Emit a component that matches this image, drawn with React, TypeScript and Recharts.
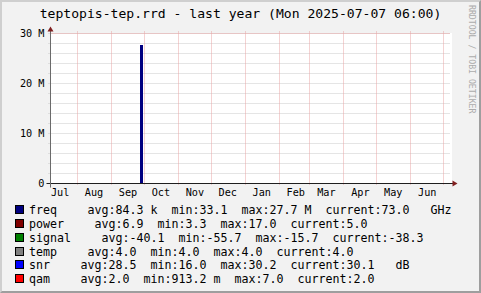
import React from 'react';
import { AreaChart, Area, XAxis, YAxis, CartesianGrid, ReferenceLine } from 'recharts';

// ---------- data ----------
const rangeStart = Date.UTC(2024, 6, 7, 6, 0);
const rangeEnd = Date.UTC(2025, 6, 7, 6, 0);

// freq samples: time, value (Hz)
const sampleTimes = [
  Date.UTC(2024, 6, 7, 6, 0),
  Date.UTC(2024, 8, 27, 0, 0),
  Date.UTC(2024, 8, 30, 0, 0),
  Date.UTC(2025, 6, 7, 6, 0),
];
const freqValues = [73.0, 27.7e6, 73.0, 73.0];

const monthNames = ['Jul', 'Aug', 'Sep', 'Oct', 'Nov', 'Dec', 'Jan', 'Feb', 'Mar', 'Apr', 'May', 'Jun'];
const labelMonthStarts = [
  Date.UTC(2024, 6, 1), Date.UTC(2024, 7, 1), Date.UTC(2024, 8, 1), Date.UTC(2024, 9, 1),
  Date.UTC(2024, 10, 1), Date.UTC(2024, 11, 1), Date.UTC(2025, 0, 1), Date.UTC(2025, 1, 1),
  Date.UTC(2025, 2, 1), Date.UTC(2025, 3, 1), Date.UTC(2025, 4, 1), Date.UTC(2025, 5, 1),
];
const gridMonthStarts = [
  Date.UTC(2024, 7, 1), Date.UTC(2024, 8, 1), Date.UTC(2024, 9, 1), Date.UTC(2024, 10, 1),
  Date.UTC(2024, 11, 1), Date.UTC(2025, 0, 1), Date.UTC(2025, 1, 1), Date.UTC(2025, 2, 1),
  Date.UTC(2025, 3, 1), Date.UTC(2025, 4, 1), Date.UTC(2025, 5, 1), Date.UTC(2025, 6, 1),
];
const yMajorTicks = [0, 10e6, 20e6, 30e6];
const yMajorLabels = ['0', '10 M', '20 M', '30 M'];
const yMinorTicks = [0, 2e6, 4e6, 6e6, 8e6, 10e6, 12e6, 14e6, 16e6, 18e6, 20e6, 22e6, 24e6, 26e6, 28e6, 30e6];

const titleText = 'teptopis-tep.rrd - last year (Mon 2025-07-07 06:00)';
const watermarkText = 'RRDTOOL / TOBI OETIKER';

const legendNames = ['freq', 'power', 'signal', 'temp', 'snr', 'qam'];
const legendColors = ['#000080', '#800000', '#008000', '#808080', '#0000ff', '#ff0000'];
const legendAvg = ['84.3 k', '6.9', '-40.1', '4.0', '28.5', '2.0'];
const legendMin = ['33.1', '3.3', '-55.7', '4.0', '16.0', '913.2 m'];
const legendMax = ['27.7 M', '17.0', '-15.7', '4.0', '30.2', '7.0'];
const legendCurrent = ['73.0', '5.0', '-38.3', '4.0', '30.1', '2.0'];
const legendUnits = ['GHz', '', '', '', 'dB', ''];

// ---------- build ----------
const HALF_MONTH = 15 * 86400000;
const labelTicks = labelMonthStarts.map((t) => t + HALF_MONTH);
const data = sampleTimes.map((t, i) => ({ t, freq: freqValues[i] }));

const FONT = '"DejaVu Sans Mono", monospace';
const MINOR = '#cbcbcb';
const MAJOR = '#e8a4a4';
const AXIS = '#1f1f1f';
const ARROW = '#801f1f';

const fmtMonth = (v: number) => {
  const i = labelTicks.indexOf(v);
  return i >= 0 ? monthNames[i] : '';
};
const fmtY = (v: number) => {
  const i = yMajorTicks.indexOf(v);
  return i >= 0 ? yMajorLabels[i] : '';
};
const blank = () => '';

// month grid line: snapped to the pixel grid, extended 2px beyond the plot like rrdtool
const MonthGridLine = (p: any) => {
  const x = Math.floor(p.x1) + 0.5;
  const yTop = Math.min(p.y1, p.y2) - 2;
  const yBot = Math.max(p.y1, p.y2) + 2;
  return <line x1={x} x2={x} y1={yTop} y2={yBot} stroke={MAJOR} strokeWidth={1} strokeDasharray="1 1" />;
};

const CW = 7.0; // legend char advance

export default function App() {
  return (
    <div
      style={{
        position: 'fixed',
        left: 0,
        top: 0,
        width: 481,
        height: 293,
        background: '#f2f2f2',
        overflow: 'hidden',
      }}
    >
      <style>{`
        .rrd .recharts-area path { shape-rendering: crispEdges; }
      `}</style>
      <div
        style={{
          position: 'absolute',
          left: 0,
          top: 0,
          width: 481,
          height: 293,
          boxSizing: 'border-box',
          borderTop: '2px solid #cfcfcf',
          borderLeft: '2px solid #cfcfcf',
          borderRight: '2px solid #9e9e9e',
          borderBottom: '2px solid #9e9e9e',
        }}
      />
      <div style={{ position: 'absolute', left: 50, top: 33, width: 402, height: 151, background: '#ffffff' }} />
      <div className="rrd" style={{ position: 'absolute', left: 0, top: 0 }}>
        <AreaChart
          width={481}
          height={293}
          data={data}
          margin={{ top: 33.5, right: 30.5, bottom: 0, left: 10.5 }}
        >
          <XAxis
            xAxisId="time"
            dataKey="t"
            type="number"
            domain={[rangeStart, rangeEnd]}
            allowDataOverflow
            ticks={labelTicks}
            interval={0}
            tickFormatter={fmtMonth}
            height={109.5}
            axisLine={false}
            tickLine={false}
            tickSize={0}
            tickMargin={5.7}
            tick={{ fontFamily: FONT, fontSize: 10.2, fill: '#000' }}
          />
          <YAxis
            yAxisId="major"
            type="number"
            domain={[0, 30e6]}
            ticks={yMajorTicks}
            interval={0}
            width={0}
            tick={false}
            axisLine={false}
            tickLine={false}
          />
          <YAxis
            yAxisId="v"
            type="number"
            domain={[0, 30e6]}
            ticks={yMinorTicks}
            interval={0}
            tickFormatter={fmtY}
            width={40}
            axisLine={false}
            tickSize={2}
            tickMargin={4}
            tickLine={{ stroke: MINOR, strokeDasharray: '1 1' }}
            tick={{ fontFamily: FONT, fontSize: 10.2, fill: '#000' }}
          />
          <YAxis
            yAxisId="ext"
            orientation="right"
            type="number"
            domain={[0, 30e6]}
            ticks={yMinorTicks}
            interval={0}
            width={0}
            tickFormatter={blank}
            tick={{ fontSize: 1 }}
            axisLine={false}
            tickSize={2}
            tickLine={{ stroke: MINOR, strokeDasharray: '1 1' }}
          />
          <CartesianGrid xAxisId="time" yAxisId="v" vertical={false} stroke={MINOR} strokeDasharray="1 1" />
          <CartesianGrid xAxisId="time" yAxisId="major" vertical={false} stroke={MAJOR} strokeDasharray="1 1" />
          {gridMonthStarts.map((t) => (
            <ReferenceLine
              key={t}
              xAxisId="time"
              yAxisId="v"
              x={t}
              stroke={MAJOR}
              ifOverflow="visible"
              shape={MonthGridLine}
            />
          ))}
          <Area
            xAxisId="time"
            yAxisId="v"
            dataKey="freq"
            type="stepAfter"
            stroke="none"
            fill="#000080"
            fillOpacity={1}
            isAnimationActive={false}
            dot={false}
            activeDot={false}
          />
        </AreaChart>
      </div>
      <svg
        width={481}
        height={293}
        style={{ position: 'absolute', left: 0, top: 0, pointerEvents: 'none' }}
      >
        {/* axes */}
        <line x1={46.5} y1={183.5} x2={454.5} y2={183.5} stroke={AXIS} strokeWidth={1} />
        <line x1={50.5} y1={187.5} x2={50.5} y2={29.5} stroke="#6a6a6a" strokeWidth={1} />
        <polygon points="452.5,180.5 452.5,186.5 457.5,183.5" fill={ARROW} />
        <polygon points="47.5,31.5 53.5,31.5 50.5,26.5" fill={ARROW} />
        {/* title */}
        <text x={240.5} y={17.5} textAnchor="middle" fontFamily={FONT} fontSize={13.08} fill="#000">
          {titleText}
        </text>
        {/* watermark */}
        <text
          x={469}
          y={5}
          transform="rotate(90 469 5)"
          fontFamily={FONT}
          fontSize={8.2}
          fill="#ababab"
        >
          {watermarkText}
        </text>
        {/* legend */}
        {legendNames.map((name, i) => {
          const top = 205 + Math.round(i * 13.85);
          const base = top + 9;
          const stats =
            `avg:${legendAvg[i]}  min:${legendMin[i]}  max:${legendMax[i]}  current:${legendCurrent[i]}` +
            (legendUnits[i] ? `   ${legendUnits[i]}` : '');
          return (
            <g key={name}>
              <rect x={15.5} y={top + 0.5} width={8} height={8} fill={legendColors[i]} stroke="#000" strokeWidth={1} />
              <text x={29} y={base} fontFamily={FONT} fontSize={11.63} fill="#000" xmlSpace="preserve" style={{ whiteSpace: 'pre' }}>
                {name}
              </text>
              <text
                x={29 + CW * name.length + 30.5}
                y={base}
                fontFamily={FONT}
                fontSize={11.63}
                fill="#000"
                xmlSpace="preserve"
                style={{ whiteSpace: 'pre' }}
              >
                {stats}
              </text>
            </g>
          );
        })}
      </svg>
    </div>
  );
}
